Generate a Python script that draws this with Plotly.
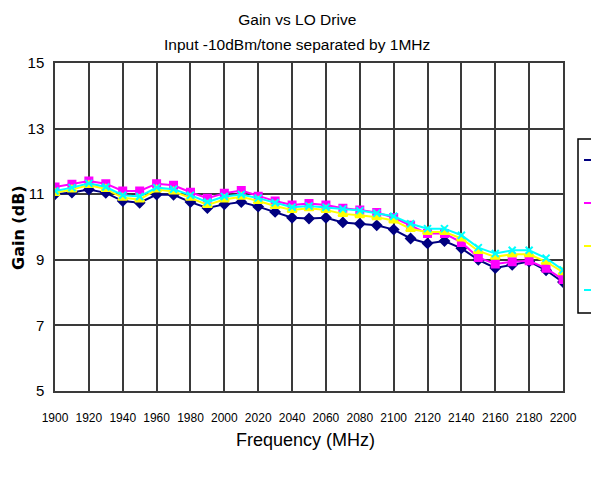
import plotly.graph_objects as go

freq = [1900, 1910, 1920, 1930, 1940, 1950, 1960, 1970, 1980, 1990,
        2000, 2010, 2020, 2030, 2040, 2050, 2060, 2070, 2080, 2090,
        2100, 2110, 2120, 2130, 2140, 2150, 2160, 2170, 2180, 2190, 2200]

gain_navy = [11.00, 11.05, 11.14, 11.04, 10.79, 10.74, 10.99, 10.98, 10.76, 10.58,
             10.69, 10.76, 10.62, 10.46, 10.28, 10.26, 10.28, 10.14, 10.10, 10.05,
             9.92, 9.65, 9.50, 9.57, 9.35, 9.00, 8.75, 8.85, 8.95, 8.68, 8.32]
gain_magenta = [11.22, 11.30, 11.40, 11.32, 11.10, 11.10, 11.32, 11.27, 11.06, 10.88,
                11.03, 11.11, 10.94, 10.79, 10.67, 10.72, 10.67, 10.57, 10.52, 10.44,
                10.29, 10.05, 9.80, 9.80, 9.53, 9.07, 8.87, 8.94, 8.97, 8.74, 8.40]
gain_yellow = [11.04, 11.14, 11.28, 11.16, 10.89, 10.84, 11.14, 11.08, 10.89, 10.67,
               10.84, 10.92, 10.79, 10.64, 10.52, 10.57, 10.52, 10.40, 10.36, 10.30,
               10.20, 9.94, 9.85, 9.85, 9.65, 9.27, 9.09, 9.17, 9.17, 8.94, 8.62]
gain_cyan = [11.10, 11.20, 11.33, 11.22, 10.97, 10.93, 11.20, 11.15, 10.97, 10.76,
             10.93, 10.99, 10.88, 10.74, 10.60, 10.64, 10.60, 10.55, 10.50, 10.42,
             10.33, 10.10, 9.95, 9.95, 9.75, 9.37, 9.19, 9.29, 9.29, 9.05, 8.69]

series_names = ["LO = -3dBm", "LO = 0dBm", "LO = +3dBm", "LO = +6dBm"]
x_ticks = list(range(1900, 2201, 20))
y_ticks = [5, 7, 9, 11, 13, 15]

FONT = "Liberation Sans, Arial, sans-serif"

# plot area in pixels (layout only)
L, R, T, B = 55, 563, 63, 391
W, H = R - L, B - T

def px_x(p):
    return (p - L) / W

def px_y(p):
    return (B - p) / H

styles = [
    (gain_navy, "#000080", "diamond", 7),
    (gain_magenta, "#FF00FF", "square", 7),
    (gain_yellow, "#FFFF00", "triangle-up", 8),
    (gain_cyan, "#00FFFF", "x-thin-open", 7),
]

fig = go.Figure()
for i, (vals, col, sym, sz) in enumerate(styles):
    fig.add_trace(go.Scatter(
        x=freq, y=vals, mode="lines+markers", name=series_names[i],
        line=dict(color=col, width=2),
        marker=dict(color=col, symbol=sym, size=sz, line=dict(color=col, width=2)),
    ))

# legend box (cut off at the right edge of the picture, as in the reference)
shapes = [dict(type="rect", xref="paper", yref="paper",
               x0=px_x(578), x1=px_x(640), y0=px_y(313), y1=px_y(139),
               line=dict(color="black", width=1.5), fillcolor="white", layer="above")]
legend_rows = [160, 203, 246, 290]
for (vals, col, sym, sz), yy in zip(styles, legend_rows):
    shapes.append(dict(type="line", xref="paper", yref="paper",
                       x0=px_x(584), x1=px_x(620), y0=px_y(yy), y1=px_y(yy),
                       line=dict(color=col, width=2), layer="above"))

fig.update_layout(
    width=591, height=477,
    margin=dict(l=L, r=591 - R, t=T, b=477 - B, autoexpand=False),
    paper_bgcolor="white", plot_bgcolor="white",
    font=dict(family=FONT, color="black"),
    title=dict(text="Gain vs LO Drive",
               x=0.503, xref="container", xanchor="center",
               y=(477 - 20) / 477, yref="container", yanchor="middle",
               font=dict(size=15.5, family=FONT)),
    showlegend=False,
    shapes=shapes,
    xaxis=dict(range=[1900, 2200], tickvals=x_ticks, ticktext=[str(v) for v in x_ticks],
               showgrid=True, gridcolor="#3a3a3a", gridwidth=1.5,
               showline=True, linecolor="#3a3a3a", linewidth=1.5, mirror=True,
               ticks="", ticklabelstandoff=15, zeroline=False,
               tickfont=dict(size=12, family=FONT)),
    yaxis=dict(range=[5, 15], tickvals=y_ticks,
               showgrid=True, gridcolor="#3a3a3a", gridwidth=1.5,
               showline=True, linecolor="#3a3a3a", linewidth=1.5, mirror=True,
               ticks="", ticklabelstandoff=6, zeroline=False,
               tickfont=dict(size=15, family=FONT)),
    annotations=[
        dict(text="Input -10dBm/tone separated by 1MHz", xref="paper", yref="paper",
             x=px_x(297), y=px_y(45), xanchor="center", yanchor="middle",
             showarrow=False, font=dict(size=15.5, family=FONT)),
        dict(text="Frequency (MHz)", xref="paper", yref="paper",
             x=px_x(305), y=px_y(440), xanchor="center", yanchor="middle",
             showarrow=False, font=dict(size=18, family=FONT)),
        dict(text="<b>Gain (dB)</b>", xref="paper", yref="paper",
             x=px_x(18), y=px_y(228), xanchor="center", yanchor="middle",
             textangle=-90, showarrow=False, font=dict(size=16, family="DejaVu Sans, sans-serif")),
    ],
)

fig.write_html(
    "out.html",
    config={"displayModeBar": False},
    post_script="document.documentElement.style.overflow='hidden';"
                "document.body.style.margin='0';document.body.style.overflow='hidden';",
)
